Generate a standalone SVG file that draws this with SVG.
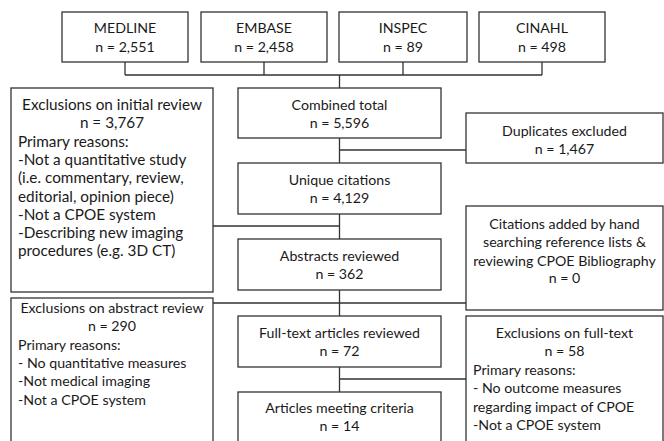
<svg xmlns="http://www.w3.org/2000/svg" width="664" height="441" viewBox="0 0 664 441">
<style>
.box{fill:#fff;stroke:#333;stroke-width:1.3}
.ln{fill:none;stroke:#333;stroke-width:1.3}
text{font-family:Lato,"Liberation Sans",Arial,sans-serif;font-size:14.2px;fill:#1a1a1a}
.c{text-anchor:middle}
.big text{font-size:15.3px}
</style>
<rect width="664" height="441" fill="#fff"/>
<g id="connectors">
<path class="ln" d="M125 62V75M264 62V75M403 62V75M542 62V75M125 75H542M339.5 75V88"/>
<path class="ln" d="M339.5 138V163M339.5 150H466"/>
<path class="ln" d="M339.5 214V239M339.5 226H213"/>
<path class="ln" d="M339.5 290V316M213 303H466"/>
<path class="ln" d="M339.5 367V392M339.5 379H466"/>
</g>
<g id="medline"><rect class="box" x="62" y="12" width="126" height="50"/><text class="c" x="125" y="33">MEDLINE</text><text class="c" x="125" y="52">n = 2,551</text></g>
<g id="embase"><rect class="box" x="201" y="12" width="126" height="50"/><text class="c" x="264" y="33">EMBASE</text><text class="c" x="264" y="52">n = 2,458</text></g>
<g id="inspec"><rect class="box" x="339" y="12" width="128" height="50"/><text class="c" x="403" y="33">INSPEC</text><text class="c" x="403" y="52">n = 89</text></g>
<g id="cinahl"><rect class="box" x="479" y="12" width="126" height="50"/><text class="c" x="542" y="33">CINAHL</text><text class="c" x="542" y="52">n = 498</text></g>
<g id="combined"><rect class="box" x="238" y="88" width="203" height="50"/><text class="c" x="339.5" y="109.5">Combined total</text><text class="c" x="339.5" y="128">n = 5,596</text></g>
<g id="excl-initial" class="big"><rect class="box" x="11" y="88" width="202" height="204"/>
<text class="c" x="112" y="110">Exclusions on initial review</text>
<text class="c" x="112" y="128.3">n = 3,767</text>
<text x="18" y="146.6">Primary reasons:</text>
<text x="18" y="164.9">-Not a quantitative study</text>
<text x="18" y="183.2">(i.e. commentary, review,</text>
<text x="18" y="201.5">editorial, opinion piece)</text>
<text x="18" y="219.8">-Not a CPOE system</text>
<text x="18" y="238.1">-Describing new imaging</text>
<text x="18" y="256.4">procedures (e.g. 3D CT)</text>
</g>
<g id="duplicates"><rect class="box" x="466" y="113" width="197" height="50"/><text class="c" x="564.5" y="135.5">Duplicates excluded</text><text class="c" x="564.5" y="154">n = 1,467</text></g>
<g id="unique"><rect class="box" x="238" y="163" width="203" height="51"/><text class="c" x="339.5" y="185">Unique citations</text><text class="c" x="339.5" y="203">n = 4,129</text></g>
<g id="citations-added"><rect class="box" x="466" y="206" width="197" height="104"/>
<text class="c" x="564.5" y="229">Citations added by hand</text>
<text class="c" x="564.5" y="247.3">searching reference lists &amp;</text>
<text class="c" x="564.5" y="265.6">reviewing CPOE Bibliography</text>
<text class="c" x="564.5" y="283">n = 0</text>
</g>
<g id="abstracts"><rect class="box" x="238" y="239" width="203" height="51"/><text class="c" x="339.5" y="260.5">Abstracts reviewed</text><text class="c" x="339.5" y="279">n = 362</text></g>
<g id="excl-abstract"><rect class="box" x="11" y="298" width="202" height="150"/>
<text class="c" x="112" y="313">Exclusions on abstract review</text>
<text class="c" x="112" y="331.3">n = 290</text>
<text x="18" y="349.6">Primary reasons:</text>
<text x="18" y="367.9">- No quantitative measures</text>
<text x="18" y="386.2">-Not medical imaging</text>
<text x="18" y="404.5">-Not a CPOE system</text>
</g>
<g id="fulltext"><rect class="box" x="238" y="316" width="203" height="51"/><text class="c" x="339.5" y="338">Full-text articles reviewed</text><text class="c" x="339.5" y="356">n = 72</text></g>
<g id="excl-fulltext"><rect class="box" x="466" y="316" width="197" height="132"/>
<text class="c" x="564.5" y="338">Exclusions on full-text</text>
<text class="c" x="564.5" y="356.4">n = 58</text>
<text x="473" y="374.8">Primary reasons:</text>
<text x="473" y="393.2">- No outcome measures</text>
<text x="473" y="411.6">regarding impact of CPOE</text>
<text x="473" y="430">-Not a CPOE system</text>
</g>
<g id="articles"><rect class="box" x="238" y="392" width="203" height="56"/><text class="c" x="339.5" y="413">Articles meeting criteria</text><text class="c" x="339.5" y="431">n = 14</text></g>
</svg>
